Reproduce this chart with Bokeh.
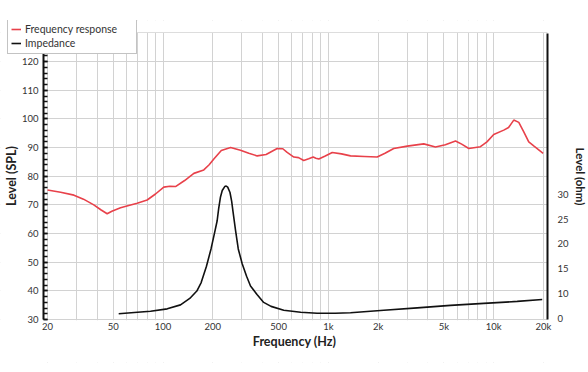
from bokeh.plotting import figure
from bokeh.models import (FixedTicker, LinearAxis, Range1d, Legend, LegendItem,
                          CustomJSTickFormatter, BoxAnnotation)
from bokeh.embed import file_html
from bokeh.resources import INLINE

# Frequency response (Hz, dB SPL)
fr_freq = [20, 24, 28.9, 33, 38.1, 42, 45.9, 49, 55.3, 62, 69.7, 80.1, 90, 101, 110,
           118.9, 135, 153.5, 176.3, 190, 202.8, 225, 256, 294, 330, 370.9, 420, 490,
           530, 563, 618, 660, 709, 760, 809, 840, 875, 950, 1055, 1200, 1361, 1650,
           1972, 2200, 2484, 3000, 3774, 4445, 5100, 5874, 6400, 7069, 8313, 9100,
           10000, 11500, 12300, 13220, 14180, 15200, 16290, 17460, 19900]
fr_spl = [75.2, 74.4, 73.4, 72.0, 70.0, 68.3, 66.9, 67.8, 69.0, 69.8, 70.6, 71.7, 73.8,
          76.2, 76.5, 76.4, 78.5, 81.0, 82.2, 84.0, 86.0, 89.0, 90.0, 89.1, 88.0, 87.1,
          87.6, 89.7, 89.6, 88.3, 86.7, 86.5, 85.5, 86.1, 86.7, 86.3, 86.0, 87.0, 88.3,
          87.8, 87.1, 86.9, 86.7, 88.0, 89.7, 90.5, 91.3, 90.2, 91.0, 92.3, 91.2, 89.7,
          90.3, 92.0, 94.6, 96.1, 97.0, 99.6, 98.8, 95.5, 92.0, 90.6, 88.0]

# Impedance (Hz, ohm)
imp_freq = [53.9, 70, 84, 106, 127.5, 145, 160, 170, 183, 195, 205, 212.4, 217, 222.5,
            228, 236, 241, 246, 254, 260, 265, 274.5, 285, 301, 320, 338, 370, 406, 450,
            537, 680, 855, 1100, 1361, 2163, 3446, 5477, 8709, 13870, 19650]
imp_ohm = [5.9, 6.2, 6.4, 6.9, 7.7, 9.0, 10.5, 12.2, 15.5, 19.0, 22.3, 24.7, 27.2, 29.5,
           30.8, 31.6, 31.7, 31.5, 30.4, 28.6, 26.5, 22.7, 19.0, 16.0, 13.5, 11.5, 9.8,
           8.2, 7.4, 6.6, 6.2, 6.0, 6.0, 6.1, 6.6, 7.1, 7.6, 8.0, 8.4, 8.8]

x_ticks = [20, 50, 100, 200, 500, 1000, 2000, 5000, 10000, 20000]
x_minor = [20, 30, 40, 50, 60, 70, 80, 90, 100, 200, 300, 400, 500, 600, 700, 800, 900,
           1000, 2000, 3000, 4000, 5000, 6000, 7000, 8000, 9000, 10000, 20000]
y_ticks = [30, 40, 50, 60, 70, 80, 90, 100, 110, 120, 130]
y_minor = list(range(30, 131, 2))
imp_ticks = [5, 10, 15, 20, 25, 30]

# drawing-area spans (wider than the gridded box, so the legend and the
# axis texts that sit outside the grid are not clipped)
X_START, X_END = 10.39, 37440
AXIS_L, AXIS_R = 18.9, 21140
Y_LO, Y_HI = 14.99, 134.36
SPL_LO, SPL_HI = 30, 130
IMP_LO, IMP_HI = -3.94, 65.15
IMP_AXIS = (4.75, 62.6)

FONT = "Lato"
RED = "#e8414a"
BLACK = "#111111"
GRID = "#d2d2d2"

p = figure(width=588, height=372, x_axis_type="log",
           x_range=(X_START, X_END), y_range=(Y_LO, Y_HI),
           output_backend="svg", toolbar_location=None,
           min_border_left=0, min_border_right=0, min_border_top=20,
           min_border_bottom=10, outline_line_color=None)
p.background_fill_color = "white"

p.extra_y_ranges = {"imp": Range1d(IMP_LO, IMP_HI)}

# white masks hiding the grid outside the gridded box
for kw in (dict(right=AXIS_L), dict(left=AXIS_R),
           dict(bottom=SPL_HI + 0.25), dict(top=SPL_LO - 0.25)):
    p.add_layout(BoxAnnotation(fill_color="white", fill_alpha=1.0,
                               line_color=None, level="underlay", **kw))

r1 = p.line(fr_freq, fr_spl, color=RED, line_width=1.6)
r2 = p.line(imp_freq, imp_ohm, color=BLACK, line_width=1.6, y_range_name="imp")

# x axis at the bottom of the grid
xa = p.xaxis[0]
xa.fixed_location = SPL_LO
xa.ticker = FixedTicker(ticks=x_ticks, minor_ticks=x_minor)
xa.formatter = CustomJSTickFormatter(
    code="return tick >= 1000 ? (Math.round(tick/1000)) + 'k' : String(Math.round(tick));")
xa.axis_line_color = None
xa.major_tick_out = 0
xa.major_tick_in = 0
xa.minor_tick_out = 0
xa.minor_tick_in = 0
xa.major_label_standoff = 2
xa.major_label_text_font = FONT
xa.major_label_text_font_size = "9.5px"
xa.major_label_text_color = "#333333"
xa.axis_label = "Frequency (Hz)"
xa.axis_label_text_font = FONT
xa.axis_label_text_font_style = "bold"
xa.axis_label_text_font_size = "12.5px"
xa.axis_label_text_color = "#222222"
xa.axis_label_standoff = -2

# left axis, at the start of the frequency span
ya = p.yaxis[0]
ya.fixed_location = AXIS_L
ya.bounds = (SPL_LO, SPL_HI)
ya.ticker = FixedTicker(ticks=y_ticks, minor_ticks=y_minor)
ya.axis_line_color = BLACK
ya.axis_line_width = 2
ya.major_tick_out = 0
ya.major_tick_in = 4
ya.minor_tick_out = 0
ya.minor_tick_in = 4
ya.major_tick_line_color = BLACK
ya.minor_tick_line_color = BLACK
ya.major_tick_line_width = 1.5
ya.minor_tick_line_width = 1.5
ya.major_label_standoff = 5
ya.major_label_text_font = FONT
ya.major_label_text_font_size = "9.5px"
ya.major_label_text_color = "#333333"
ya.axis_label = "Level (SPL)"
ya.axis_label_text_font = FONT
ya.axis_label_text_font_style = "bold"
ya.axis_label_text_font_size = "12.5px"
ya.axis_label_text_color = "#222222"
ya.axis_label_standoff = 0

# right axis, at the end of the frequency span
ra = LinearAxis(y_range_name="imp", bounds=IMP_AXIS, fixed_location=AXIS_R,
                ticker=FixedTicker(ticks=imp_ticks, minor_ticks=[]),
                formatter=CustomJSTickFormatter(
                    code="return tick == 5 ? '0' : String(Math.round(tick));"))
ra.axis_line_color = BLACK
ra.axis_line_width = 2
ra.major_tick_out = 0
ra.major_tick_in = 0
ra.minor_tick_out = 0
ra.minor_tick_in = 0
ra.major_label_standoff = 10
ra.major_label_text_font = FONT
ra.major_label_text_font_size = "9.5px"
ra.major_label_text_color = "#333333"
ra.axis_label = "Level (ohm)"
ra.axis_label_text_font = FONT
ra.axis_label_text_font_style = "bold"
ra.axis_label_text_font_size = "11.5px"
ra.axis_label_text_color = "#222222"
ra.axis_label_standoff = 2
p.add_layout(ra, "right")

# grids
p.xgrid.grid_line_color = GRID
p.xgrid.minor_grid_line_color = GRID
p.ygrid.grid_line_color = GRID

legend = Legend(items=[LegendItem(label="Frequency response", renderers=[r1]),
                       LegendItem(label="Impedance", renderers=[r2])],
                location=(7, 308))
legend.level = "overlay"
legend.label_text_font = FONT
legend.label_text_font_size = "10.5px"
legend.label_text_color = "#333333"
legend.glyph_width = 10
legend.glyph_height = 14
legend.label_height = 14
legend.label_width = 108
legend.label_standoff = 4
legend.spacing = 0
legend.padding = 3
legend.margin = 0
legend.border_line_color = "#888888"
legend.border_line_width = 1
legend.background_fill_color = "white"
legend.background_fill_alpha = 1.0
p.add_layout(legend, "center")

open("out.html", "w").write(file_html(p, INLINE))
